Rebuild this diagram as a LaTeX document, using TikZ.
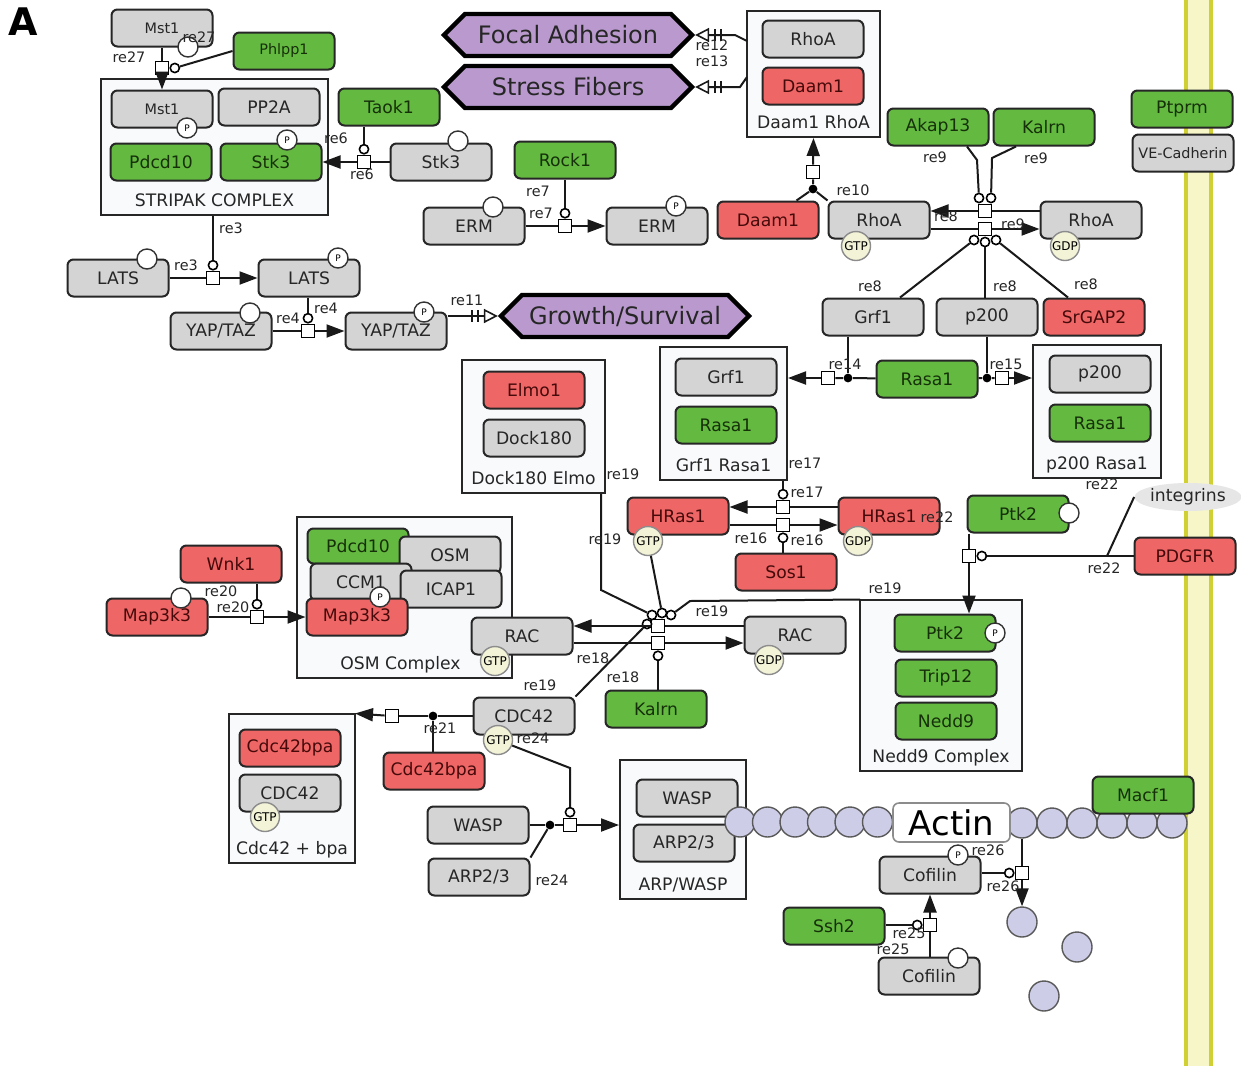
\documentclass[tikz,border=0pt]{standalone}
\usepackage{fontspec}
\setmainfont{DejaVu Sans}
\usetikzlibrary{positioning,shapes.misc,shapes.symbols,shapes.geometric,arrows.meta}
\definecolor{spgray}{RGB}{212,212,212}
\definecolor{spgreen}{RGB}{100,186,64}
\definecolor{spred}{RGB}{238,102,102}
\definecolor{txtgreen}{RGB}{22,48,10}
\definecolor{txtred}{RGB}{70,10,10}
\definecolor{phenfill}{RGB}{186,154,206}
\definecolor{cplxfill}{RGB}{248,250,252}
\definecolor{gtpfill}{RGB}{243,243,216}
\definecolor{actfill}{RGB}{205,205,232}
\definecolor{memline}{RGB}{208,208,52}
\definecolor{memfill}{RGB}{246,246,200}
\definecolor{intfill}{RGB}{230,230,230}
\newcommand\fsp{\fontsize{8.6}{10}\selectfont}
\newcommand\fsm{\fontsize{7.2}{8}\selectfont}
\newcommand\fre{\fontsize{7.2}{8}\selectfont}
\newcommand\fhx{\fontsize{12}{14}\selectfont}
\newcommand\ftn{\fontsize{4.5}{5}\selectfont}
\newcommand\fgt{\fontsize{6}{7}\selectfont}
\begin{document}
\begin{tikzpicture}[x=0.5pt,y=-0.5pt,
  sp/.style={draw=black!85,line width=1pt,rounded corners=3pt,minimum width=50.5pt,minimum height=18.5pt,inner sep=0pt,font=\fsp,text=black!85},
  gry/.style={sp,fill=spgray},
  grn/.style={sp,fill=spgreen,text=txtgreen},
  rd/.style={sp,fill=spred,text=txtred},
  cplx/.style={chamfered rectangle,chamfered rectangle xsep=4pt,chamfered rectangle ysep=4pt,draw=black!85,line width=1pt,fill=cplxfill,inner sep=0pt},
  cxlab/.style={anchor=south,font=\fsp,text=black!85,inner sep=3pt,text height=6.5pt,text depth=1.8pt},
  phen/.style={signal,signal to=west and east,signal pointer angle=90,draw=black,line width=2.2pt,fill=phenfill,minimum width=124pt,minimum height=21pt,inner sep=0pt,font=\fhx,text=black!85},
  st/.style={circle,draw=black!80,fill=white,line width=0.7pt,minimum size=10pt,inner sep=0pt},
  ph/.style={st,font=\ftn},
  gtp/.style={circle,draw=black!45,fill=gtpfill,line width=0.7pt,minimum size=14.5pt,inner sep=0pt,font=\fgt},
  rx/.style={rectangle,draw=black,fill=white,line width=0.9pt,minimum size=6.5pt,inner sep=0pt},
  cat/.style={circle,draw=black,fill=white,line width=0.8pt,minimum size=4.6pt,inner sep=0pt},
  jn/.style={circle,fill=black,minimum size=4.4pt,inner sep=0pt},
  lab/.style={font=\fre,inner sep=0pt,text=black!85},
  act/.style={circle,draw=black!65,fill=actfill,line width=0.7pt,minimum size=15pt,inner sep=0pt},
  ln/.style={draw=black!90,line width=1pt},
  arr/.style={ln,-{Triangle[length=9pt,width=6.5pt]}},
  phe/.style={ln,-{Bar[width=6pt,line width=0.9pt,sep=2pt]Bar[width=6pt,line width=0.9pt,sep=2.5pt]Triangle[open,length=7pt,width=7pt,line width=0.8pt]}}]
\path[use as bounding box,fill=white] (0,0) rectangle (1241,1066);

% membrane
\fill[memfill] (1186,0) rectangle (1211,1066);
\draw[memline,line width=2pt] (1186,0) -- (1186,1066) (1211,0) -- (1211,1066);

\node[font=\fontsize{19}{20}\selectfont\bfseries] (pA) at (23,22) {A};

% complexes
\node[cplx,minimum width=113.5pt,minimum height=68pt] (stripak) at (214.5,147) {};
\node[cxlab] (stripakT) at (stripak.south) {STRIPAK COMPLEX};
\node[cplx,minimum width=66.5pt,minimum height=63pt] (daamCx) at (813.5,74) {};
\node[cxlab] (daamCxT) at (daamCx.south) {Daam1 RhoA};
\node[cplx,minimum width=71.5pt,minimum height=66.5pt] (elmoCx) at (533.5,426.5) {};
\node[cxlab] (elmoCxT) at (elmoCx.south) {Dock180 Elmo};
\node[cplx,minimum width=63.5pt,minimum height=66.5pt] (grfCx) at (723.5,413.5) {};
\node[cxlab] (grfCxT) at (grfCx.south) {Grf1 Rasa1};
\node[cplx,minimum width=64pt,minimum height=66.5pt] (p2Cx) at (1097,411.5) {};
\node[cxlab] (p2CxT) at (p2Cx.south) {p200 Rasa1};
\node[cplx,minimum width=107.5pt,minimum height=80.5pt] (osmCx) at (404.5,597.5) {};
\node[cxlab] (osmCxT) at ([xshift=-2pt]osmCx.south) {OSM Complex};
\node[cplx,minimum width=81pt,minimum height=85.5pt] (nedCx) at (941,685.5) {};
\node[cxlab] (nedCxT) at (nedCx.south) {Nedd9 Complex};
\node[cplx,minimum width=63pt,minimum height=74.5pt] (cdcCx) at (292,788.5) {};
\node[cxlab] (cdcCxT) at (cdcCx.south) {Cdc42 + bpa};
\node[cplx,minimum width=63pt,minimum height=69.5pt] (arpCx) at (683,829.5) {};
\node[cxlab] (arpCxT) at (arpCx.south) {ARP/WASP};

% phenotypes
\node[phen] (focal) at (568,35) {Focal Adhesion};
\node[phen] (stress) at (568,87) {Stress Fibers};
\node[phen] (growth) at (625,316) {Growth/Survival};

% species
\node[gry,font=\fsm] (mstA) at (162,28) {Mst1};
\node[st] (mstAs) at (188,47) {};
\node[grn,font=\fsm] (phlpp) at (284,51) {Phlpp1};
\node[gry,font=\fsm] (mstB) at (162,109) {Mst1};
\node[ph] (mstBp) at (187,128) {P};
\node[gry] (pp2a) at (269,107) {PP2A};
\node[grn] (pdcdA) at (161,162) {Pdcd10};
\node[grn] (stkA) at (271,162) {Stk3};
\node[ph] (stkAp) at (287,140) {P};
\node[grn] (taok) at (389,107) {Taok1};
\node[gry] (stkB) at (441,162) {Stk3};
\node[st] (stkBs) at (458,141) {};
\node[grn] (rock) at (565,160) {Rock1};
\node[gry] (ermA) at (474,226) {ERM};
\node[st] (ermAs) at (493,207) {};
\node[gry] (ermB) at (657,226) {ERM};
\node[ph] (ermBp) at (676,206) {P};
\node[gry] (latsA) at (118,278) {LATS};
\node[st] (latsAs) at (147,259) {};
\node[gry] (latsB) at (309,278) {LATS};
\node[ph] (latsBp) at (338,258) {P};
\node[gry] (yapA) at (221,331) {YAP/TAZ};
\node[st] (yapAs) at (250,313) {};
\node[gry] (yapB) at (396,331) {YAP/TAZ};
\node[ph] (yapBp) at (424,312) {P};

\node[gry] (rhoIn) at (813,39) {RhoA};
\node[rd] (daamIn) at (813,86) {Daam1};
\node[rd] (daamB) at (768,220) {Daam1};
\node[gry] (rhoGTP) at (879,220) {RhoA};
\node[gtp] (rhoGTPg) at (856,246) {GTP};
\node[gry] (rhoGDP) at (1091,220) {RhoA};
\node[gtp] (rhoGDPg) at (1065,246) {GDP};
\node[grn] (akap) at (938,127) {Akap13};
\node[grn] (kalA) at (1044,127) {Kalrn};
\node[gry] (grfA) at (873,317) {Grf1};
\node[gry] (p2A) at (987,317) {p200};
\node[rd] (srgap) at (1094,317) {SrGAP2};
\node[grn] (ptprm) at (1182,109) {Ptprm};
\node[gry,font=\fsm] (vecad) at (1183,153) {VE-Cadherin};

\node[grn] (rasaA) at (927,379) {Rasa1};
\node[gry] (grfB) at (726,377) {Grf1};
\node[grn] (rasaB) at (726,425) {Rasa1};
\node[gry] (p2B) at (1100,374) {p200};
\node[grn] (rasaC) at (1100,423) {Rasa1};
\node[rd] (elmo) at (534,390) {Elmo1};
\node[gry] (dock) at (534,438) {Dock180};

\node[rd] (hrasA) at (678,516) {HRas1};
\node[gtp] (hrasAg) at (648,541) {GTP};
\node[rd] (hrasB) at (889,516) {HRas1};
\node[gtp] (hrasBg) at (858,541) {GDP};
\node[rd] (sos) at (786,572) {Sos1};

\node[grn] (ptkA) at (1018,514) {Ptk2};
\node[st] (ptkAs) at (1069,513) {};
\node[ellipse,fill=intfill,minimum width=52pt,minimum height=14pt,inner sep=0pt,font=\fsp,text=black!85] (integ) at (1188,497) {integrins};
\node[rd] (pdgfr) at (1185,556) {PDGFR};
\node[grn] (ptkB) at (945,633) {Ptk2};
\node[ph] (ptkBp) at (995,633) {P};
\node[grn] (trip) at (946,678) {Trip12};
\node[grn] (nedd) at (946,721) {Nedd9};

\node[rd] (wnk) at (231,564) {Wnk1};
\node[rd] (mapA) at (157,617) {Map3k3};
\node[st] (mapAs) at (181,598) {};
\node[grn,minimum height=17.5pt] (pdcdB) at (358,546) {Pdcd10};
\node[gry] (osm) at (450,555) {OSM};
\node[gry] (ccm) at (361,582) {CCM1};
\node[gry] (icap) at (451,589) {ICAP1};
\node[rd] (mapB) at (357,617) {Map3k3};
\node[ph] (ccmp) at (380,597) {P};

\node[gry] (racA) at (522,636) {RAC};
\node[gtp] (racAg) at (495,661) {GTP};
\node[gry] (racB) at (795,635) {RAC};
\node[gtp] (racBg) at (769,660) {GDP};
\node[grn] (kalB) at (656,709) {Kalrn};

\node[rd] (bpaB) at (290,748) {Cdc42bpa};
\node[gry] (cdcB) at (290,793) {CDC42};
\node[gtp] (cdcBg) at (265,817) {GTP};
\node[gry] (cdcA) at (524,716) {CDC42};
\node[gtp] (cdcAg) at (498,740) {GTP};
\node[rd] (bpaA) at (434,771) {Cdc42bpa};
\node[gry] (waspA) at (478,825) {WASP};
\node[gry] (arpA) at (479,877) {ARP2/3};
\node[gry] (waspB) at (687,798) {WASP};
\node[gry] (arpB) at (684,843) {ARP2/3};

% actin filament
\foreach \i/\xx in {1/740,2/767.5,3/795,4/822.5,5/850,6/877.5}
  \node[act] (al\i) at (\xx,822) {};
\foreach \i/\xx in {1/1022,2/1052,3/1082,4/1112,5/1142,6/1172}
  \node[act] (ar\i) at (\xx,823) {};
\node[draw=black!45,fill=white,rounded corners=3pt,line width=0.8pt,minimum width=58.5pt,minimum height=19.5pt,inner sep=0pt,font=\fontsize{17}{18}\selectfont] (actin) at (951.5,822.5) {Actin};
\node[grn] (macf) at (1143,795) {Macf1};
\node[act] (fr1) at (1022,922) {};
\node[act] (fr2) at (1077,947) {};
\node[act] (fr3) at (1044,996) {};

\node[gry] (cofA) at (930,875) {Cofilin};
\node[ph] (cofAp) at (958,855) {P};
\node[gry] (cofB) at (929,976) {Cofilin};
\node[st] (cofBs) at (958,958) {};
\node[grn] (ssh) at (834,926) {Ssh2};

% reactions
\node[rx] (r27) at (162,68) {};
\node[cat,right=0pt of r27] (c27) {};
\node[rx] (r6) at (364,162) {};
\node[cat,above=0pt of r6] (c6) {};
\node[rx] (r7) at (565,226) {};
\node[cat,above=0pt of r7] (c7) {};
\node[rx] (r3) at (213,278) {};
\node[cat,above=0pt of r3] (c3) {};
\node[rx] (r4) at (308,331) {};
\node[cat,above=0pt of r4] (c4) {};
\node[jn] (d10) at (813,189) {};
\node[rx] (r10) at (813,172) {};
\node[rx] (r5) at (985,211) {};
\node[rx] (r8) at (985,229) {};
\node[cat] (c5a) at (979,198) {};
\node[cat] (c5b) at (991,198) {};
\node[cat] (c8a) at (974,240) {};
\node[cat] (c8b) at (985,242) {};
\node[cat] (c8c) at (996,240) {};
\node[jn] (d14) at (848,378) {};
\node[rx] (r14) at (828,378) {};
\node[jn] (d15) at (987,378) {};
\node[rx] (r15) at (1002,378) {};
\node[rx] (r17) at (783,507) {};
\node[cat,above=0pt of r17] (c17) {};
\node[rx] (r16) at (783,525) {};
\node[cat,below=0pt of r16] (c16) {};
\node[rx] (r22) at (969,556) {};
\node[cat,right=0pt of r22] (c22) {};
\node[rx] (r19) at (658,626) {};
\node[rx] (r18) at (658,643) {};
\node[cat,below=0pt of r18] (c18) {};
\node[cat] (c19a) at (647,624) {};
\node[cat] (c19b) at (652,615) {};
\node[cat] (c19c) at (662,613) {};
\node[cat] (c19d) at (671,615) {};
\node[rx] (r20) at (257,617) {};
\node[cat,above=0pt of r20] (c20) {};
\node[jn] (d21) at (433,716) {};
\node[rx] (r21) at (392,716) {};
\node[jn] (d24) at (550,825) {};
\node[rx] (r24) at (570,825) {};
\node[cat,above=0pt of r24] (c24) {};
\node[rx] (r26) at (1022,873) {};
\node[cat,left=0pt of r26] (c26) {};
\node[rx] (r25) at (930,925) {};
\node[cat,left=0pt of r25] (c25) {};

\coordinate (e12) at (747,41);
\coordinate (k12) at (735,35);
\coordinate (e13) at (747,77);
\coordinate (k13) at (740,87);
\coordinate (k9a) at (977,160);
\coordinate (k9b) at (992,158);
\coordinate (j22) at (1107,556);
\coordinate (k19a) at (601,590);
\coordinate (k19b) at (690,601);
\coordinate (k24) at (570,768);

% connectors
\draw[ln] (mstA) -- (r27);
\draw[arr] (r27) -- (mstB);
\draw[ln] (phlpp.west) -- (c27);
\draw[ln] (stkB) -- (r6);
\draw[arr] (r6) -- (stkA);
\draw[ln] (taok.south -| c6) -- (c6);
\draw[ln] (ermA) -- (r7);
\draw[arr] (r7) -- (ermB);
\draw[ln] (rock) -- (c7);
\draw[ln] (latsA) -- (r3);
\draw[arr] (r3) -- (latsB);
\draw[ln] (stripak.south -| c3) -- (c3);
\draw[ln] (yapA) -- (r4);
\draw[arr] (r4) -- (yapB);
\draw[ln] (latsB.south -| c4) -- (c4);
\draw[phe] (yapB.east |- growth.west) -- (growth.west);
\draw[phe] (e12) -- (k12) -- (focal.east);
\draw[phe] (e13) -- (k13) -- (stress.east);
\draw[ln] ([xshift=-11.5pt]daamB.north east) -- (d10);
\draw[ln] (rhoGTP.north west) -- (d10) -- (r10);
\draw[arr] (r10) -- (daamCx.south);
\draw[ln] (rhoGDP.west |- r5) -- (r5);
\draw[arr] (r5) -- (rhoGTP.east |- r5);
\draw[ln] (rhoGTP.east |- r8) -- (r8);
\draw[arr] (r8) -- (rhoGDP.west |- r8);
\draw[ln] ([xshift=14.5pt]akap.south) -- (k9a) -- (c5a);
\draw[ln] ([xshift=-14pt]kalA.south) -- (k9b) -- (c5b);
\draw[ln] ([xshift=13.5pt]grfA.north) -- (c8a);
\draw[ln] (p2A.north -| c8b) -- (c8b);
\draw[ln] ([xshift=-13pt]srgap.north) -- (c8c);
\draw[ln] (rasaA) -- (d14) -- (r14);
\draw[arr] (r14) -- (grfCx.east |- r14);
\draw[ln] ([xshift=-12.5pt]grfA.south) -- (d14);
\draw[ln] (rasaA) -- (d15) -- (r15);
\draw[arr] (r15) -- (p2Cx.west |- r15);
\draw[ln] (p2A) -- (d15);
\draw[ln] (grfCx.south -| c17) -- (c17);
\draw[ln] (hrasB.west |- r17) -- (r17);
\draw[arr] (r17) -- (hrasA.east |- r17);
\draw[ln] (hrasA.east |- r16) -- (r16);
\draw[arr] (r16) -- (hrasB.west |- r16);
\draw[ln] (sos.north -| c16) -- (c16);
\draw[ln] (c22) -- (pdgfr);
\draw[ln] (integ.west) -- (j22);
\draw[ln] (ptkA.south -| r22) -- (r22);
\draw[arr] (r22) -- (ptkB.north -| r22);
\draw[ln] (racB.west |- r19) -- (r19);
\draw[arr] (r19) -- (racA.east |- r19);
\draw[ln] (racA.east |- r18) -- (r18);
\draw[arr] (r18) -- (racB.west |- r18);
\draw[ln] (kalB.north -| c18) -- (c18);
\draw[ln] (cdcA.north east) -- (c19a);
\draw[ln] (elmoCx.south -| k19a) -- (k19a) -- (c19b);
\draw[ln] (hrasAg) -- (c19c);
\draw[ln] (c19d) -- (k19b) -- (nedCx.north west);
\draw[ln] (mapA) -- (r20);
\draw[arr] (r20) -- (mapB);
\draw[ln] (wnk.south -| c20) -- (c20);
\draw[ln] (cdcA) -- (d21) -- (r21);
\draw[arr] (r21) -- (cdcCx.north east);
\draw[ln] (bpaA.north -| d21) -- (d21);
\draw[ln] (cdcAg) -- (k24) -- (c24);
\draw[ln] (waspA) -- (d24) -- (r24);
\draw[ln] (arpA.north east) -- (d24);
\draw[arr] (r24) -- (arpCx.west |- r24);
\draw[ln] (ar1) -- (r26);
\draw[arr] (r26) -- (fr1);
\draw[ln] (cofA.east |- c26) -- (c26);
\draw[ln] (cofB.north -| r25) -- (r25);
\draw[arr] (r25) -- (cofA.south -| r25);
\draw[ln] (ssh.east |- c25) -- (c25);

% reaction labels
\node[lab] (l27a) at (199,37) {re27};
\node[lab] (l27b) at (129,57) {re27};
\node[lab] (l6a) at (336,138) {re6};
\node[lab] (l6b) at (362,174) {re6};
\node[lab] (l7a) at (538,191) {re7};
\node[lab] (l7b) at (541,213) {re7};
\node[lab] (l3a) at (231,228) {re3};
\node[lab] (l3b) at (186,265) {re3};
\node[lab] (l4a) at (326,308) {re4};
\node[lab] (l4b) at (288,318) {re4};
\node[lab] (l11) at (467,300) {re11};
\node[lab] (l12) at (712,45) {re12};
\node[lab] (l13) at (712,61) {re13};
\node[lab] (l10) at (853,190) {re10};
\node[lab] (l9a) at (935,157) {re9};
\node[lab] (l9b) at (1036,158) {re9};
\node[lab] (l8a) at (946,216) {re8};
\node[lab] (l9c) at (1013,224) {re9};
\node[lab] (l8b) at (870,286) {re8};
\node[lab] (l8c) at (1005,286) {re8};
\node[lab] (l8d) at (1086,284) {re8};
\node[lab] (l14) at (845,364) {re14};
\node[lab] (l15) at (1006,364) {re15};
\node[lab] (l17a) at (805,463) {re17};
\node[lab] (l17b) at (807,492) {re17};
\node[lab] (l16a) at (751,538) {re16};
\node[lab] (l16b) at (807,540) {re16};
\node[lab] (l22a) at (937,517) {re22};
\node[lab] (l22b) at (1102,484) {re22};
\node[lab] (l22c) at (1104,568) {re22};
\node[lab] (l19a) at (885,588) {re19};
\node[lab] (l19b) at (712,611) {re19};
\node[lab] (l19c) at (623,474) {re19};
\node[lab] (l19d) at (605,539) {re19};
\node[lab] (l19e) at (540,685) {re19};
\node[lab] (l18a) at (593,658) {re18};
\node[lab] (l18b) at (623,677) {re18};
\node[lab] (l20a) at (221,591) {re20};
\node[lab] (l20b) at (233,607) {re20};
\node[lab] (l21) at (440,728) {re21};
\node[lab] (l24a) at (533,738) {re24};
\node[lab] (l24b) at (552,880) {re24};
\node[lab] (l26a) at (988,850) {re26};
\node[lab] (l26b) at (1003,886) {re26};
\node[lab] (l25a) at (909,933) {re25};
\node[lab] (l25b) at (893,949) {re25};
\end{tikzpicture}
\end{document}
